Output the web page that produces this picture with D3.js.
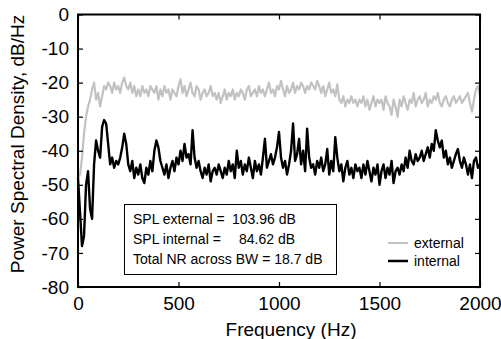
<!DOCTYPE html>
<html>
<head>
<meta charset="utf-8">
<script src="https://cdn.jsdelivr.net/npm/d3@7"></script>
<style>
  body { margin: 0; background: #fff; }
  svg { display: block; font-family: "Liberation Sans", Arial, sans-serif; }
</style>
</head>
<body>
<div id="chart"></div>
<script>
// frequency step of both spectra, Hz
const freqStep = 10;

// external microphone PSD, dB/Hz, 0..2000 Hz every 10 Hz
const externalPsd = [
  -48, -47, -42, -35, -30, -27, -25, -22, -20, -25,
  -23, -27, -24, -21, -22, -20, -21, -23, -20, -22,
  -21, -23, -20, -18.5, -21, -22, -20, -23, -21, -24,
  -22, -24, -21, -23, -22, -24, -21, -22, -23, -21,
  -25, -22, -24, -21, -23, -22, -25, -22, -23, -24,
  -21, -19, -23, -21, -24, -22, -20, -23, -24, -21,
  -22, -25, -23, -22, -24, -23, -21, -24, -23, -25,
  -23, -26, -24, -22, -25, -23, -24, -22, -25, -23,
  -24, -22, -23, -25, -22, -21, -24, -23, -22, -24,
  -21, -23, -22, -24, -22, -20, -23, -22, -24, -21,
  -22, -19.5, -22, -24, -21, -23, -22, -20, -23, -21,
  -22, -20, -21, -23, -21, -22, -20, -21, -22, -19.5,
  -21, -23, -21, -24, -22, -20, -23, -22, -24, -20.5,
  -25, -26, -24, -27, -25, -26, -24, -26, -25, -27,
  -25, -26, -24, -27, -25, -28, -26, -24, -27, -25,
  -26, -25, -28, -24, -26, -27, -29.5, -25, -27, -30,
  -25, -27, -24, -26, -28, -25, -26, -23, -27, -25,
  -24, -26, -25, -23, -27, -25, -26, -24, -25, -23,
  -26, -27, -25, -24, -26, -27, -25, -24, -26, -25,
  -24, -26, -25, -24, -23, -26, -28.5, -25, -22, -21,
  -24
];

// internal microphone PSD, dB/Hz
const internalPsd = [
  -48, -58, -68, -65, -50, -46, -57, -60, -44, -37,
  -40, -42, -33, -31, -32, -38, -44, -42, -45, -43,
  -44, -42, -39, -35, -38, -44, -46, -43, -48, -45,
  -47, -44, -48, -49.5, -45, -47, -43, -46, -40, -37,
  -39, -43, -45, -47, -44, -48, -45, -43, -46, -42,
  -44, -40, -43, -38, -42, -41, -44, -34, -42, -45,
  -43, -46, -48, -45, -47, -44, -49, -46, -45, -47,
  -44, -46, -48, -45, -47, -43, -46, -44, -48, -40,
  -45, -43, -47, -44, -46, -42, -45, -48, -43, -46,
  -44, -47, -42, -36.5, -45, -43, -41, -44, -42, -39,
  -34.5, -42, -45, -43, -47, -44, -40, -32, -43, -41,
  -36.5, -44, -40, -46, -33.5, -42, -45, -44, -47, -43,
  -45, -42, -46, -44, -39.5, -47, -43, -46, -36, -42,
  -46, -44, -49, -45, -43, -47, -45, -48, -44, -46,
  -45, -48, -44, -47, -43, -46, -49, -45, -47, -44,
  -50, -46, -44, -48, -45, -47, -43, -49.5, -46, -45,
  -47, -44, -46, -42, -45, -40, -43, -44, -41, -43,
  -42, -40, -43, -41, -39, -42, -38, -40, -34, -37,
  -39, -37, -42, -40, -44, -42, -45, -43, -41, -39.5,
  -43, -45, -42, -44, -47, -44, -48, -43, -42, -45,
  -44
];

const xTicks = [0, 500, 1000, 1500, 2000];
const yTicks = [0, -10, -20, -30, -40, -50, -60, -70, -80];

const statLines = [
  { label: "SPL external =", value: "103.96 dB" },
  { label: "SPL internal =", value: "84.62 dB" },
  { label: "Total NR across BW = 18.7 dB", value: "" }
];
const seriesNames = ["external", "internal"];
const seriesColors = ["#c2c2c2", "#000"];

const width = 501, height = 339;
const margin = { top: 14.5, right: 21, bottom: 52, left: 78 };
const plotW = width - margin.left - margin.right;
const plotH = height - margin.top - margin.bottom;

const svg = d3.select('#chart').append('svg')
  .attr('width', width)
  .attr('height', height);

const g = svg.append('g')
  .attr('transform', `translate(${margin.left},${margin.top})`);

const x = d3.scaleLinear().domain([0, 2000]).range([0, plotW]);
const y = d3.scaleLinear().domain([-80, 0]).range([plotH, 0]);

// spectra
const line = d3.line()
  .x((d, i) => x(i * freqStep))
  .y(d => y(d));

g.append('path')
  .datum(externalPsd)
  .attr('fill', 'none')
  .attr('stroke', seriesColors[0])
  .attr('stroke-width', 2.2)
  .attr('stroke-linejoin', 'round')
  .attr('d', line);

g.append('path')
  .datum(internalPsd)
  .attr('fill', 'none')
  .attr('stroke', seriesColors[1])
  .attr('stroke-width', 2.4)
  .attr('stroke-linejoin', 'round')
  .attr('d', line);

// axes, ticks pointing inward
const tick = 5;
const axisFont = '19px';

const axisB = g.append('g')
  .attr('transform', `translate(0,${plotH})`)
  .call(d3.axisBottom(x).tickValues(xTicks).tickSize(-tick).tickPadding(10).tickFormat(d3.format('d')));
const axisT = g.append('g')
  .call(d3.axisTop(x).tickValues(xTicks).tickSize(-tick).tickFormat(''));
const axisL = g.append('g')
  .call(d3.axisLeft(y).tickValues(yTicks).tickSize(-tick).tickPadding(9).tickFormat(d => String(d)));
const axisR = g.append('g')
  .attr('transform', `translate(${plotW},0)`)
  .call(d3.axisRight(y).tickValues(yTicks).tickSize(-tick).tickFormat(''));

[axisB, axisT, axisL, axisR].forEach(a => {
  a.select('.domain').remove();
  a.selectAll('line').attr('stroke', '#000').attr('stroke-width', 1.2);
  a.selectAll('text').style('font-size', axisFont).attr('fill', '#000');
});

g.append('rect')
  .attr('width', plotW)
  .attr('height', plotH)
  .attr('fill', 'none')
  .attr('stroke', '#000')
  .attr('stroke-width', 2);

// axis titles (the original sits a little right of / above centre)
svg.append('text')
  .attr('x', 291)
  .attr('y', 336)
  .attr('text-anchor', 'middle')
  .style('font-size', axisFont)
  .text('Frequency (Hz)');

svg.append('text')
  .attr('transform', 'translate(24,144) rotate(-90)')
  .attr('text-anchor', 'middle')
  .style('font-size', axisFont)
  .text('Power Spectral Density, dB/Hz');

// stats box
svg.append('rect')
  .attr('x', 124.5).attr('y', 204.5)
  .attr('width', 212).attr('height', 70)
  .attr('fill', '#fff')
  .attr('stroke', '#000')
  .attr('stroke-width', 1);

const valueX = [232, 239, 0];
statLines.forEach((s, i) => {
  const yy = 224 + i * 19.8;
  svg.append('text').attr('x', 133).attr('y', yy)
    .style('font-size', '14px').text(s.label);
  if (s.value) {
    svg.append('text').attr('x', valueX[i]).attr('y', yy)
      .style('font-size', '14px').text(s.value);
  }
});

// legend
seriesNames.forEach((name, i) => {
  const ly = 243 + i * 18;
  svg.append('line')
    .attr('x1', 388).attr('x2', 408)
    .attr('y1', ly).attr('y2', ly)
    .attr('stroke', seriesColors[i])
    .attr('stroke-width', i === 0 ? 2 : 2.5);
  svg.append('text')
    .attr('x', 414).attr('y', ly + 5)
    .style('font-size', '14px')
    .text(name);
});
</script>
</body>
</html>
